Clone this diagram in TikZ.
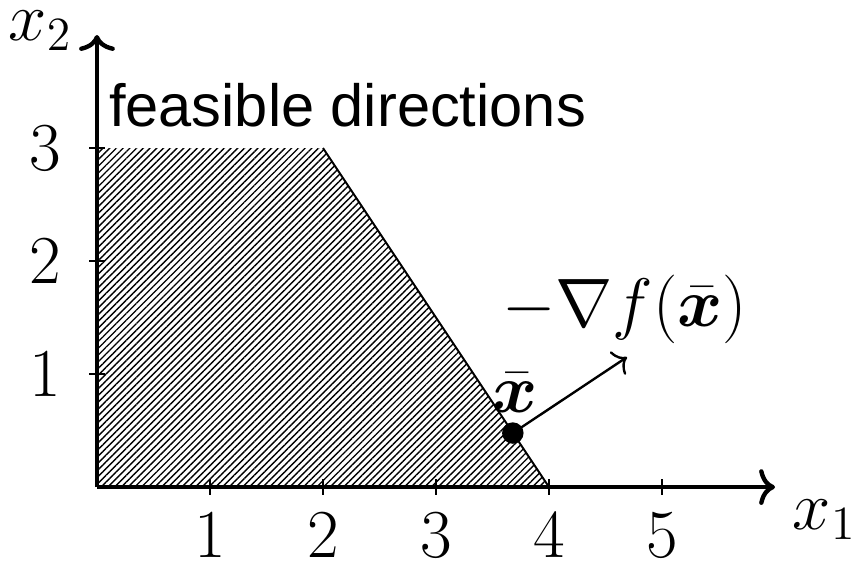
\documentclass[tikz,border=0pt]{standalone}
\usepackage{amsmath,bm}
\usepackage{fontspec}
\setsansfont{Liberation Sans}
\usetikzlibrary{patterns.meta,arrows.meta}
\begin{document}
\begin{tikzpicture}[
  axis/.style={line width=1.1pt,-{To[length=4pt,width=9pt]}},
  tickmark/.style={line width=0.45pt},
  ticklabel/.style={font=\LARGE,inner sep=0pt},
  bigmath/.style={font=\LARGE,inner sep=0pt}
]
\useasboundingbox (-0.858,-0.655) rectangle (6.699,4.31);
% feasible region
\fill[pattern={Lines[angle=45,distance=1.2pt,line width=0.35pt]}] (0,0) -- (0,3) -- (2,3) -- (4,0) -- cycle;
\coordinate (A) at (2,3);
\coordinate (B) at (4,0);
\draw[line width=0.5pt] (A) -- (B);
% axes
\coordinate (O) at (0,0);
\coordinate (X) at (6,0);
\coordinate (Y) at (0,4);
\draw[axis] (O) -- (X);
\draw[axis] (O) -- (Y);
% ticks
\foreach \i in {1,...,5} {
  \draw[tickmark] (\i,-0.07) -- (\i,0.07);
  \node[ticklabel] (xl\i) at (\i,-0.43) {$\i$};
}
\foreach \i in {1,2,3} {
  \draw[tickmark] (-0.07,\i) -- (0.07,\i);
  \node[ticklabel] (yl\i) at (-0.46,\i) {$\i$};
}
\node[bigmath] (x1) at (6.44,-0.29) {$x_1$};
\node[bigmath] (x2) at (-0.50,4.04) {$x_2$};
\node[anchor=base west,inner sep=0pt,font=\sffamily\fontsize{15}{18}\selectfont] (fd) at (0.1,3.19) {feasible directions};
% point and gradient
\node[circle,fill=black,inner sep=0pt,minimum size=0.19cm] (p) at (3.68,0.478) {};
\node[bigmath] (pl) at (3.70,0.83) {$\bar{\bm{x}}$};
\coordinate (g) at (4.69,1.15);
\draw[line width=0.6pt,-{To[length=3pt,width=7pt]}] (p.center) -- (g);
\node[bigmath] (gl) at (4.67,1.57) {$-\nabla f(\bar{\bm{x}})$};
\end{tikzpicture}
\end{document}
